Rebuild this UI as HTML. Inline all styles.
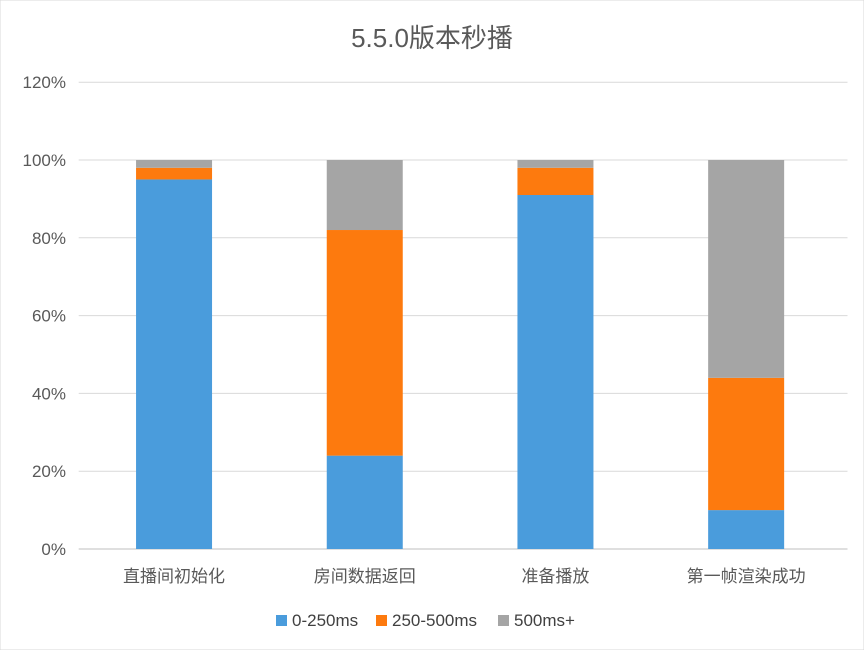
<!DOCTYPE html>
<html><head><meta charset="utf-8"><style>
html,body{margin:0;padding:0;background:#fff;}
svg text{font-family:"Liberation Sans","Noto Sans CJK SC",sans-serif;}
</style></head><body>
<svg id="chart" width="864" height="650" viewBox="0 0 864 650">
<rect x="0" y="0" width="864" height="650" fill="#fff" stroke="#d9d9d9"/>
<text x="432" y="47" text-anchor="middle" font-size="26" fill="#595959">5.5.0版本秒播</text>
<g id="grid"></g>
<g id="yticks"></g>
<g id="bars"></g>
<g id="xlabels"></g>
<g>
<g><rect x="276" y="615" width="11" height="11" fill="#4a9cdc"/><text x="292" y="626" font-size="17" fill="#404040">0-250ms</text></g>
<g><rect x="376" y="615" width="11" height="11" fill="#fd7a0e"/><text x="392" y="626" font-size="17" fill="#404040">250-500ms</text></g>
<g><rect x="498" y="615" width="11" height="11" fill="#a5a5a5"/><text x="514" y="626" font-size="17" fill="#404040">500ms+</text></g>
</g>
</svg>
<script>
const categories = ["直播间初始化","房间数据返回","准备播放","第一帧渲染成功"];
const fast = [95, 24, 91, 10];
const mid = [3, 58, 7, 34];
const slow = [2, 18, 2, 56];
const yTicks = [0, 20, 40, 60, 80, 100, 120];
const NS = "http://www.w3.org/2000/svg";
const left = 78.7, right = 841.5, y0 = 549, pxPer = 3.89;
function y(v){ return y0 - v * pxPer; }
const band = (right - left) / categories.length;
function xc(i){ return left + band * (i + 0.5); }
const bw = 76;
const grid = document.getElementById('grid'), yt = document.getElementById('yticks');
yTicks.forEach(t => {
  const l = document.createElementNS(NS, 'line');
  l.setAttribute('x1', left); l.setAttribute('x2', right + 6);
  l.setAttribute('y1', y(t)); l.setAttribute('y2', y(t));
  l.setAttribute('stroke', t === 0 ? '#bfbfbf' : '#d9d9d9'); l.setAttribute('stroke-width', '1');
  
  
  grid.appendChild(l);
  const tx = document.createElementNS(NS, 'text');
  tx.setAttribute('x', 66); tx.setAttribute('y', y(t) + 6);
  tx.setAttribute('text-anchor', 'end'); tx.setAttribute('font-size', '17'); tx.setAttribute('fill', '#595959');
  tx.textContent = t + '%';
  
  
  yt.appendChild(tx);
});
const bars = document.getElementById('bars'), xl = document.getElementById('xlabels');
const series = [[fast, '#4a9cdc'], [mid, '#fd7a0e'], [slow, '#a5a5a5']];
categories.forEach((c, i) => {
  let base = 0;
  series.forEach(([arr, col], si) => {
    const r = document.createElementNS(NS, 'rect');
    r.setAttribute('x', xc(i) - bw / 2); r.setAttribute('width', bw);
    r.setAttribute('y', y(base + arr[i])); r.setAttribute('height', arr[i] * pxPer);
    r.setAttribute('fill', col);
    
    
    bars.appendChild(r);
    base += arr[i];
  });
  const tx = document.createElementNS(NS, 'text');
  tx.setAttribute('x', xc(i)); tx.setAttribute('y', 582);
  tx.setAttribute('text-anchor', 'middle'); tx.setAttribute('font-size', '17'); tx.setAttribute('fill', '#595959');
  tx.textContent = c;
  
  
  xl.appendChild(tx);
});
</script>
</body></html>
